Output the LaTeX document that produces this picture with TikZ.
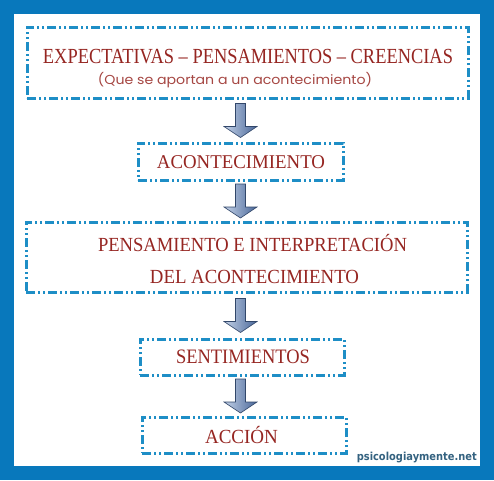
\documentclass[tikz,border=0pt]{standalone}
\usepackage{fontspec}
\setmainfont{Liberation Serif}
\newfontfamily\subfont{Poppins}
\newfontfamily\webfont{DejaVu Sans}
\usepackage{graphicx}
\usetikzlibrary{calc}
\definecolor{marco}{RGB}{8,120,188}
\definecolor{trazo}{RGB}{30,142,198}
\definecolor{rojo}{RGB}{150,38,34}
\definecolor{web}{RGB}{52,98,128}
\definecolor{flechaclara}{RGB}{196,210,232}
\definecolor{flechaoscura}{RGB}{72,102,152}
\tikzset{
	cajastyle/.style={rectangle,draw=trazo,line width=3pt,dash pattern=on 9pt off 3pt on 2pt off 3pt on 2pt off 3pt,inner sep=0pt},
	titulostyle/.style={anchor=base,inner sep=0pt,text=rojo},
	flechastyle/.style={draw=flechaoscura!70!black,line width=0.6pt,left color=flechaclara,right color=flechaoscura}
}
\newcommand{\ajusta}[2]{\resizebox{#1}{\height}{#2}}
\newcommand{\flecha}[2]{%
	\coordinate (m) at ($(#1.south)!0.5!(#2.north)$);
	\shadedraw[flechastyle] ($(eje |- m)+(-5,-17)$) -- ($(eje |- m)+(5,-17)$) -- ($(eje |- m)+(5,6)$) -- ($(eje |- m)+(16.5,6)$) -- ($(eje |- m)+(0,17)$) -- ($(eje |- m)+(-16.5,6)$) -- ($(eje |- m)+(-5,6)$) -- cycle;
}

\begin{document}
\begin{tikzpicture}[x=1pt,y=-1pt]
		\useasboundingbox (0,0) rectangle (494,480);
		\fill[marco] (0,0) rectangle (494,480);
		\fill[white] (14,14) rectangle (480,466);
		\coordinate (eje) at (240.5,0);
		\node[cajastyle,minimum width=441pt,minimum height=71pt] (c1) at (247.5,62.5) {};
		\node[cajastyle,minimum width=205pt,minimum height=37pt] (c2) at (240.5,161.5) {};
		\node[cajastyle,minimum width=441pt,minimum height=70pt] (c3) at (246.5,257) {};
		\node[cajastyle,minimum width=204pt,minimum height=36pt] (c4) at (242,357) {};
		\node[cajastyle,minimum width=204pt,minimum height=36pt] (c5) at (244,435) {};
		\node[titulostyle] (t1) at (248,63) {\ajusta{410pt}{\fontsize{21.5}{24}\selectfont EXPECTATIVAS – PENSAMIENTOS – CREENCIAS}};
		\node[titulostyle,text=rojo!85] (t2) at (235,84.5) {\ajusta{274pt}{\subfont\fontsize{13}{15}\selectfont (Que se aportan a un acontecimiento)}};
		\node[titulostyle] (t3) at (241,168) {\ajusta{168pt}{\fontsize{19.5}{22}\selectfont ACONTECIMIENTO}};
		\node[titulostyle] (t4) at (252.5,251) {\ajusta{309pt}{\fontsize{20}{22}\selectfont PENSAMIENTO E INTERPRETACIÓN}};
		\node[titulostyle] (t5) at (254.5,283) {\ajusta{209pt}{\fontsize{20}{22}\selectfont DEL ACONTECIMIENTO}};
		\node[titulostyle] (t6) at (243,363) {\ajusta{134pt}{\fontsize{20.5}{22}\selectfont SENTIMIENTOS}};
		\node[titulostyle] (t7) at (241.5,443) {\ajusta{73pt}{\fontsize{20}{22}\selectfont ACCIÓN}};
		\node[anchor=base east,inner sep=0pt,text=web] (w) at (477,460) {\ajusta{120pt}{\webfont\bfseries\fontsize{11}{12}\selectfont psicologiaymente.net}};
		\flecha{c1}{c2}
		\flecha{c2}{c3}
		\flecha{c3}{c4}
		\flecha{c4}{c5}
\end{tikzpicture}
\end{document}
